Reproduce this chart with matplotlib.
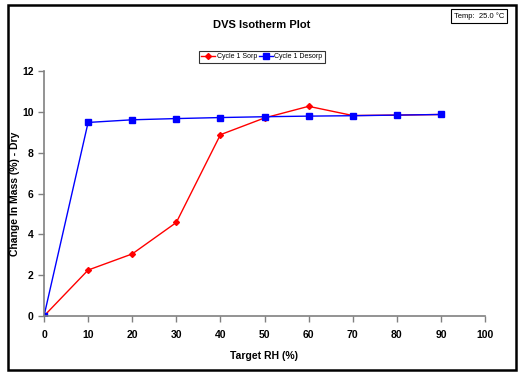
import matplotlib.pyplot as plt
from matplotlib.patches import Rectangle

rh = [0, 10, 20, 30, 40, 50, 60, 70, 80, 90]
sorp = [0.0, 2.25, 3.04, 4.58, 8.88, 9.70, 10.27, 9.82, 9.84, 9.87]
desorp = [0.0, 9.48, 9.61, 9.67, 9.72, 9.76, 9.79, 9.81, 9.84, 9.87]
x_ticks = list(range(0, 101, 10))
y_ticks = list(range(0, 13, 2))

plt.rcParams["font.family"] = ["Liberation Sans", "DejaVu Sans"]

fig = plt.figure(figsize=(5.22, 3.74), dpi=100)
W, H = 522, 374
ax = fig.add_axes([44 / W, 1 - 316 / H, (485 - 44) / W, (316 - 71) / H])

ax.plot(rh, sorp, color="red", marker="D", markersize=3, lw=1, label="Cycle 1 Sorp")
ax.plot(rh, desorp, color="blue", marker="s", markersize=5, lw=1, label="Cycle 1 Desorp")

ax.set_xlim(0, 100)
ax.set_ylim(0, 12)
ax.set_xticks(x_ticks)
ax.set_yticks(y_ticks)
for s in ["top", "right"]:
    ax.spines[s].set_visible(False)
for s in ["left", "bottom"]:
    ax.spines[s].set_color("#808080")
    ax.spines[s].set_linewidth(1.2)
ax.tick_params(colors="#808080", labelcolor="black", length=4, width=1, labelsize=7.5)
for lbl in ax.get_xticklabels() + ax.get_yticklabels():
    lbl.set_fontweight("bold")
ax.tick_params(axis="x", pad=6)

ax.set_xlabel("Target RH (%)", fontsize=7.5, fontweight="bold", labelpad=8)
ax.set_ylabel("Change In Mass (%) - Dry", fontsize=7.5, fontweight="bold")
ax.yaxis.set_label_coords(-(44 - 20) / (485 - 44), 0.5)

leg = ax.legend(loc="center", bbox_to_anchor=(262 / W, 1 - 57 / H),
                bbox_transform=fig.transFigure, ncol=2, fontsize=5,
                frameon=True, fancybox=False, handlelength=2.0,
                handletextpad=0.2, columnspacing=0.3, borderpad=0.3)
leg.get_frame().set_edgecolor("black")
leg.get_frame().set_linewidth(0.8)

fig.text(262 / W, 1 - 25 / H, "DVS Isotherm Plot", ha="center", va="center",
         fontsize=8, fontweight="bold")
fig.text(479 / W, 1 - 16 / H, "Temp:  25.0 \u00b0C", ha="center", va="center",
         fontsize=5.5, bbox=dict(boxstyle="square,pad=0.35", fc="white", ec="black", lw=0.8))

fig.patches.append(Rectangle((8 / W, 4 / H), 508 / W, 365 / H, transform=fig.transFigure,
                             fill=False, ec="black", lw=1.8))

plt.savefig("out.png", dpi=100)
